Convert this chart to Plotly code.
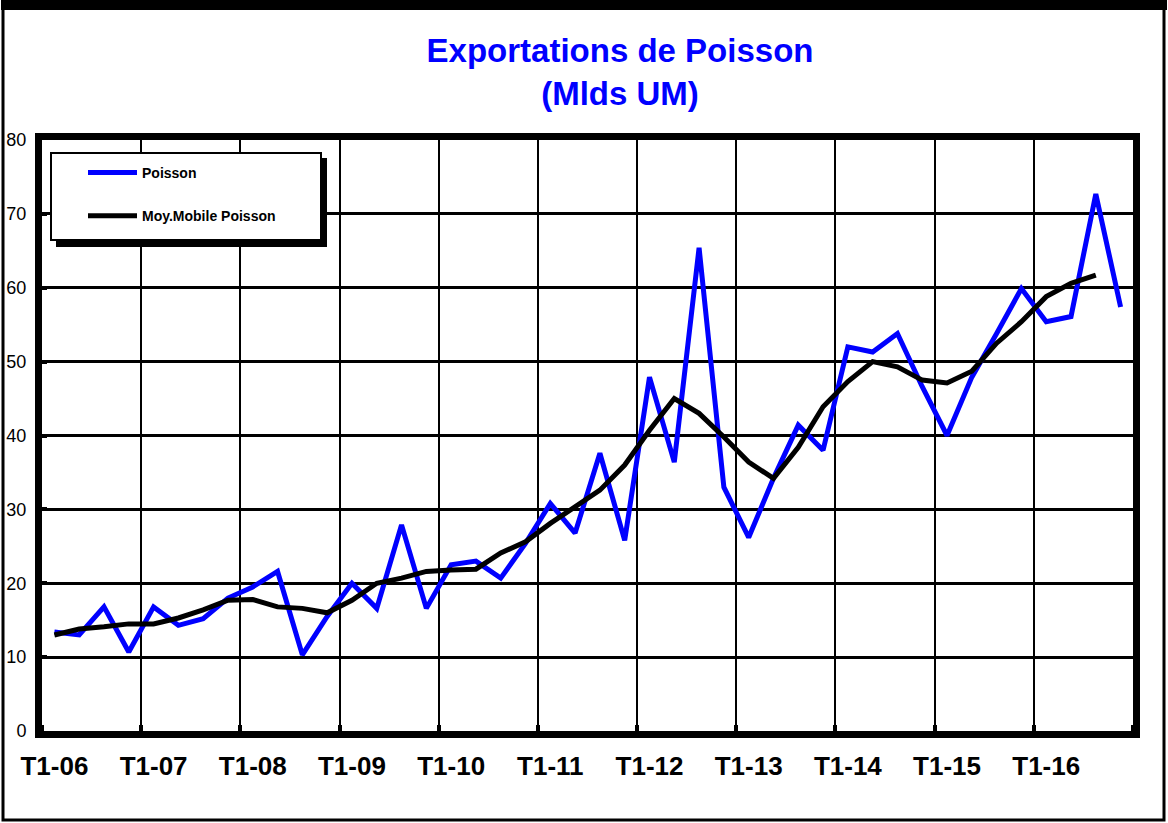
import plotly.graph_objects as go

years = ["06", "07", "08", "09", "10", "11", "12", "13", "14", "15", "16"]
quarters = [f"T{q}-{y}" for y in years for q in range(1, 5)]
tick_labels = [f"T1-{y}" for y in years]

poisson = [13.4, 13.0, 16.8, 10.7, 16.8, 14.3, 15.2, 18.0, 19.5, 21.6, 10.3,
           15.5, 20.0, 16.6, 27.9, 16.6, 22.5, 23.0, 20.7, 25.4, 30.8, 26.8,
           37.6, 25.8, 47.9, 36.4, 65.4, 33.0, 26.2, 34.2, 41.4, 38.0, 52.0,
           51.3, 53.8, 46.6, 40.0, 47.9, 53.8, 59.9, 55.4, 56.1, 72.7, 57.4]
moy_mobile = [13.0, 13.8, 14.1, 14.5, 14.5, 15.3, 16.4, 17.7, 17.8, 16.8, 16.6,
              16.0, 17.7, 20.0, 20.7, 21.6, 21.8, 21.9, 24.1, 25.6, 28.1, 30.3,
              32.6, 36.0, 40.7, 45.0, 43.0, 39.8, 36.4, 34.2, 38.4, 43.9, 47.3,
              50.0, 49.3, 47.5, 47.1, 48.7, 52.5, 55.4, 58.8, 60.6, 61.7]

x_idx = list(range(len(quarters)))
tick_pos = [quarters.index(t) for t in tick_labels]
year_bounds = [p - 0.5 for p in tick_pos] + [len(quarters) - 0.5]

W, H = 1168, 823
L, R, T, B = 42, 1133, 140, 731


def px(x):
    return (x - L) / (R - L)


def py(y):
    return (B - y) / (B - T)


FONT = "Liberation Sans, Arial, sans-serif"

fig = go.Figure()
fig.add_trace(go.Scatter(
    x=x_idx, y=poisson, mode="lines", name="Poisson", text=quarters,
    line=dict(color="#0000FF", width=5), legendgroup="a"))
fig.add_trace(go.Scatter(
    x=x_idx[:len(moy_mobile)], y=moy_mobile, mode="lines",
    name="Moy.Mobile Poisson", text=quarters[:len(moy_mobile)],
    line=dict(color="#000000", width=5), legendgroup="b"))

shapes = [
    # legend shadow and box
    dict(type="rect", xref="paper", yref="paper",
         x0=px(56), x1=px(327), y0=py(158), y1=py(247),
         fillcolor="black", line=dict(width=0), layer="above"),
    dict(type="rect", xref="paper", yref="paper",
         x0=px(51), x1=px(321), y0=py(153), y1=py(240),
         fillcolor="white", line=dict(color="black", width=2), layer="above"),
    # outer frame
    dict(type="rect", xref="paper", yref="paper",
         x0=px(3), x1=px(1164), y0=py(5), y1=py(820),
         line=dict(color="black", width=3), layer="above"),
    dict(type="rect", xref="paper", yref="paper",
         x0=px(1), x1=px(1167), y0=py(0), y1=py(10),
         fillcolor="black", line=dict(width=0), layer="above"),
]

fig.update_layout(
    width=W, height=H,
    margin=dict(l=L, r=W - R, t=T, b=H - B, autoexpand=False),
    paper_bgcolor="white", plot_bgcolor="white",
    title=dict(text="Exportations de Poisson<br>(Mlds UM)",
               x=620 / W, xanchor="center", xref="container",
               y=1 - 62 / H, yanchor="top", yref="container",
               font=dict(family=FONT, size=33, color="#0000FF", weight="bold")),
    showlegend=True,
    legend=dict(x=px(83), y=py(157), xanchor="left", yanchor="top",
                bgcolor="rgba(0,0,0,0)", borderwidth=0,
                itemwidth=49, tracegroupgap=22, traceorder="grouped",
                font=dict(family=FONT, size=14, color="black", weight="bold")),
    shapes=shapes,
)

fig.update_xaxes(
    type="linear", range=[-0.5, len(quarters) - 0.5], automargin=False,
    tickmode="array", tickvals=tick_pos, ticktext=tick_labels, tickangle=0,
    showgrid=False, zeroline=False, ticks="",
    minor=dict(tickmode="array", tickvals=year_bounds, showgrid=True,
               gridcolor="black", gridwidth=2,
               ticks="inside", ticklen=6, tickwidth=4, tickcolor="black"),
    showline=True, linecolor="black", linewidth=7, mirror=True,
    tickfont=dict(family=FONT, size=26, color="black", weight="bold"),
    ticklabelstandoff=6,
)
fig.update_yaxes(
    range=[0, 80], dtick=10, tick0=0, automargin=False,
    showgrid=True, gridcolor="black", gridwidth=3, zeroline=False,
    showline=True, linecolor="black", linewidth=7, mirror=True,
    ticks="inside", ticklen=5, tickwidth=4, tickcolor="black",
    tickfont=dict(family=FONT, size=18, color="black"),
    ticklabelstandoff=5,
)

fig.write_html(
    "out.html",
    config={"displayModeBar": False},
    post_script="document.body.style.margin='0';"
                "document.body.style.overflow='hidden';",
)
